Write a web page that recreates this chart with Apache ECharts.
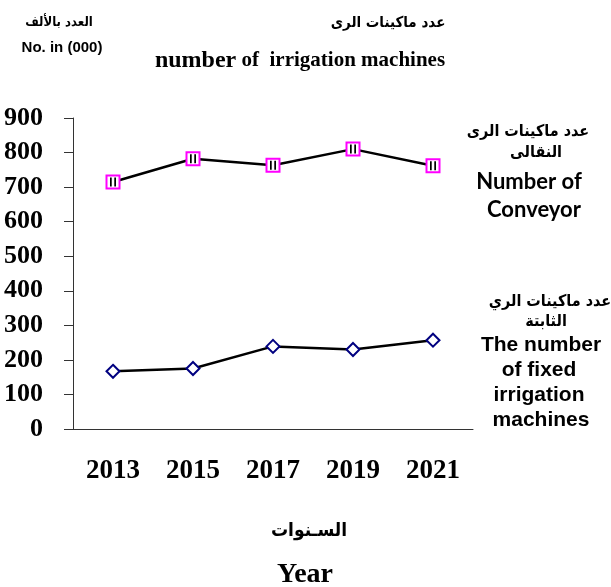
<!DOCTYPE html>
<html>
<head>
<meta charset="utf-8">
<script src="https://cdn.jsdelivr.net/npm/echarts@6/dist/echarts.min.js"></script>
<style>
  html, body { margin: 0; padding: 0; background: #fff; }
  #chart { width: 611px; height: 587px; }
</style>
</head>
<body>
<div id="chart"></div>
<script>
// data
var years = ["2013", "2015", "2017", "2019", "2021"];
var conveyor = [715, 782, 763, 810, 762];
var fixed = [167, 175, 239, 230, 257];
var yTicks = { min: 0, max: 900, interval: 100 };

var chart = echarts.init(document.getElementById("chart"));

var serif = "'Liberation Serif', 'Times New Roman', serif";
var sans = "'Liberation Sans', Arial, sans-serif";
var arabic = "'DejaVu Sans Condensed', 'DejaVu Sans', sans-serif";

function txt(x, y, text, size, family, align) {
  return {
    type: "text",
    x: x,
    y: y,
    style: {
      text: text,
      fontSize: size,
      fontFamily: family,
      fontWeight: "bold",
      fill: "#000",
      align: align || "center",
      verticalAlign: "middle"
    }
  };
}

var option = {
  animation: false,
  grid: {
    left: 73,
    right: 138,
    top: 118,
    bottom: 158
  },
  xAxis: {
    type: "category",
    data: years,
    boundaryGap: true,
    axisLine: { lineStyle: { color: "#333", width: 1 } },
    axisTick: { length: 9, lineStyle: { color: "#333" } },
    axisLabel: {
      margin: 29,
      fontSize: 27,
      fontWeight: "bold",
      fontFamily: serif,
      color: "#000"
    }
  },
  yAxis: {
    type: "value",
    min: yTicks.min,
    max: yTicks.max,
    interval: yTicks.interval,
    axisLine: { show: true, lineStyle: { color: "#333", width: 1 } },
    axisTick: { show: true, length: 9, lineStyle: { color: "#333" } },
    splitLine: { show: false },
    axisLabel: {
      margin: 30,
      fontSize: 26,
      fontWeight: "bold",
      fontFamily: serif,
      color: "#000"
    }
  },
  series: [
    {
      name: "conveyor",
      type: "line",
      data: conveyor,
      symbol: "rect",
      symbolSize: 13,
      lineStyle: { color: "#000", width: 2.5 },
      itemStyle: { color: "#fff", borderColor: "#FF00FF", borderWidth: 2 },
      z: 3
    },
    {
      // the two black bars inside the pink squares
      name: "conveyorBars",
      type: "line",
      data: conveyor,
      symbol: "path://M0,0L2,0L2,10L0,10Z M5,0L7,0L7,10L5,10Z",
      symbolSize: [6, 9],
      lineStyle: { width: 0, opacity: 0 },
      itemStyle: { color: "#000" },
      silent: true,
      z: 4
    },
    {
      name: "fixed",
      type: "line",
      data: fixed,
      symbol: "diamond",
      symbolSize: 13,
      lineStyle: { color: "#000", width: 2.5 },
      itemStyle: { color: "#fff", borderColor: "#000080", borderWidth: 2 },
      z: 3
    }
  ],
  graphic: [
    // titles
    txt(388, 23, "عدد ماكينات الرى", 15, arabic),
    {
      type: "text",
      x: 300,
      y: 61,
      style: {
        rich: {
          a: { fontSize: 24, fontFamily: serif, fontWeight: "bold", fill: "#000" },
          b: { fontSize: 21, fontFamily: serif, fontWeight: "bold", fill: "#000" }
        },
        text: "{a|number}{b| of  irrigation machines}",
        align: "center",
        verticalAlign: "middle"
      }
    },
    // unit label
    txt(59, 23, "العدد بالألف", 13, arabic),
    txt(62, 48, "No. in (000)", 15, sans),
    // conveyor label
    txt(528, 132, "عدد ماكينات الرى", 16, arabic),
    txt(536, 153, "النقالى", 16, arabic),
    txt(529, 182, "Number of", 22, "Lato, sans-serif"),
    txt(534, 210, "Conveyor", 22, "Lato, sans-serif"),
    // fixed label
    txt(550, 302, "عدد ماكينات الري", 16, arabic),
    txt(546, 322, "الثابتة", 16, arabic),
    txt(541, 345, "The number", 21, sans),
    txt(539, 370, "of fixed", 21, sans),
    txt(539, 395, "irrigation", 21, sans),
    txt(541, 420, "machines", 21, sans),
    // x axis name
    txt(309, 531, "السـنوات", 19, arabic),
    txt(305, 575, "Year", 28, serif)
  ]
};

chart.setOption(option);
</script>
</body>
</html>
